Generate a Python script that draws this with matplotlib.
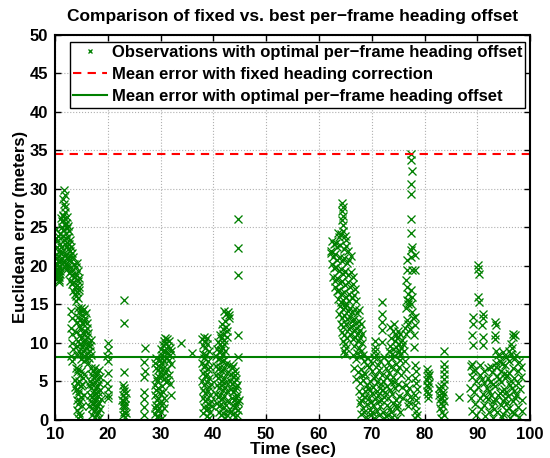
import matplotlib
matplotlib.use("Agg")
import matplotlib.pyplot as plt
import numpy as np

plt.rcParams['font.family'] = ['Liberation Sans', 'DejaVu Sans']

# ---------------- data (time in sec, error in meters) ----------------
seg_a = [(10.1,24.8),(10.2,23.6),(10.2,19.2),(10.3,22.4),(10.3,18.4),(10.4,21.0),(10.4,20.1),(10.5,19.5),
         (10.5,23.9),(10.6,18.9),(10.6,20.7),(10.7,18.2),(10.7,21.8),(10.8,19.8),(10.8,17.9),(10.9,20.6),
         (10.9,22.9),(11.0,24.1),(11.0,19.0),(11.1,21.7),(10.1,20.4),(10.3,19.6),(10.5,18.6),(10.7,20.0),
         (10.9,19.4),(11.1,20.9),(10.2,21.5),(10.4,23.2),(10.6,19.3),(10.8,18.5)]
seg_b = [(11.7,29.8),(11.8,29.2),(11.6,28.7),(11.7,28.1),(11.9,27.6),(11.8,27.0),(11.6,26.5),
         (11.2,26.2),(11.4,25.8),(11.5,26.6),(11.9,26.1),(12.1,25.6),(12.3,26.3),(12.5,25.2),(11.3,25.0),
         (11.6,24.6),(11.8,25.3),(12.0,24.3),(12.2,24.9),(12.4,23.8),(12.6,24.5),(12.8,23.4),(11.5,23.9),
         (11.7,23.3),(11.9,22.8),(12.1,23.6),(12.3,22.6),(12.5,22.2),(12.7,22.9),(12.9,21.9),(11.2,22.4),
         (11.4,21.8),(12.0,21.6),(12.2,21.2),(13.0,22.4),(13.2,21.7),(12.6,20.8),
         (11.3,21.0),(11.6,20.5),(12.0,20.2),(12.4,20.9),(12.8,21.3),(13.1,20.6),(13.4,21.1),(13.6,20.2),
         (13.9,19.8),(14.2,20.4),(14.4,19.3),(12.2,19.6),(12.6,19.1),(13.0,19.4),(13.3,18.8),(13.7,18.5),
         (14.0,18.9),(14.3,18.1),(14.6,18.4),(12.9,18.0),(13.2,17.6),(13.5,17.9),(13.8,17.2),(14.1,17.5),
         (14.5,16.9),(13.4,16.8),(13.7,16.4),(14.0,16.1),(14.3,15.8),(13.9,15.5),(14.2,16.6),(12.5,20.0),
         (11.9,19.9),(13.1,19.9),(14.6,17.2)]
seg_c = [(13.1,14.1),(13.2,13.2),(13.0,12.0),(13.3,11.1),(13.2,10.0),(13.4,9.2),(13.1,8.3),(13.3,7.6),
         (14.3,14.5),(14.6,14.0),(14.9,14.6),(15.2,14.2),(15.5,14.4),(15.8,13.9),(14.4,13.4),(14.8,13.0),
         (15.1,13.6),(15.4,12.9),(15.7,13.3),(16.0,12.6),(14.5,12.2),(14.9,11.8),(15.3,12.4),(15.6,11.6),
         (16.0,11.9),(16.3,11.3),(14.7,11.0),(15.0,10.6),(15.4,11.2),(15.7,10.4),(16.1,10.8),(16.5,10.1),
         (14.4,10.3),(14.8,9.8),(15.2,9.5),(15.5,10.0),(15.9,9.3),(16.2,9.7),(16.6,9.0),(14.6,9.0),
         (15.0,8.6),(15.3,8.9),(15.7,8.3),(16.0,8.7),(16.4,8.1),(16.8,8.5),(14.9,7.9),(15.4,7.6),
         (15.8,7.9),(16.3,7.4),(14.2,8.4),(14.1,9.6),(14.0,11.4),(14.2,12.7),(16.7,9.6),(16.9,10.4),
         (13.9,6.8),(14.1,6.2),(14.4,6.6),(14.7,5.9),(15.0,6.4),(15.3,5.5),(13.8,5.2),(14.2,4.8),
         (14.5,5.1),(14.9,4.4),(15.2,4.7),(14.0,3.9),(14.3,3.4),(14.6,3.7),(15.0,3.0),(15.4,3.3),
         (14.1,2.6),(14.4,2.1),(14.8,2.4),(15.1,1.8),(14.2,1.3),(14.5,0.9),(14.7,0.5),(14.4,0.2),
         (15.5,6.0),(13.7,4.3)]
seg_d = [(16.8,6.7),(17.2,6.4),(17.6,6.8),(18.0,6.2),(18.4,6.5),(17.0,5.8),(17.4,5.5),(17.8,5.9),
         (18.2,5.3),(18.6,5.6),(16.7,5.0),(17.1,4.7),(17.5,4.9),(17.9,4.4),(18.3,4.8),(16.9,4.1),
         (17.3,3.8),(17.7,4.2),(18.1,3.6),(18.5,3.9),(16.6,3.3),(17.0,3.0),(17.4,3.4),(17.8,2.8),
         (18.2,3.1),(18.7,2.7),(16.8,2.4),(17.2,2.1),(17.6,2.5),(18.0,1.9),(18.4,2.2),(17.0,1.5),
         (17.4,1.2),(17.8,1.6),(18.2,1.0),(18.6,1.4),(17.1,0.7),(17.5,0.4),(17.9,0.8),(18.3,0.3),
         (16.5,4.5),(16.4,1.8)]
seg_e = [(20.0,10.0),(20.1,9.1),(19.9,8.3),(20.0,7.6),(20.1,6.1),(19.9,4.8),(20.0,4.0),(20.1,3.3),(20.0,2.8)]
seg_f = [(23.0,15.6),(23.0,12.6),(23.0,6.2),(22.9,4.5),(23.1,4.1),(23.0,3.7),(22.8,3.2),(23.2,2.9),
         (23.0,2.4),(22.9,2.0),(23.1,1.6),(23.0,1.1),(22.8,0.7),(23.2,0.4),(23.4,3.5),(23.3,1.9),
         (22.7,2.6),(23.5,0.9)]
seg_g = [(27.0,9.3),(26.9,7.5),(27.0,6.4),(26.9,5.6),(26.8,3.6),(26.9,2.7),(26.8,1.7),(26.9,0.6)]
seg_h = [(29.0,4.6),(29.2,3.9),(28.9,3.2),(29.3,2.6),(29.1,1.9),(29.4,1.3),(29.0,0.8),(29.3,0.4),
         (29.6,4.2),(29.8,3.5),(29.5,2.9),(29.9,2.2),(29.7,1.6),(30.0,1.0),(29.6,0.5),(30.2,0.3),
         (29.4,5.1),(29.7,5.6),(30.0,6.2),(29.8,6.9),(30.1,7.4),(30.3,8.0),(29.5,6.5),(29.9,7.8),
         (30.2,8.5),(30.0,9.2),(30.4,9.7),(30.6,10.3),(30.8,10.7),(31.0,10.0),(31.2,10.5),(31.4,9.6),
         (31.6,10.2),(31.8,9.3),(30.5,8.9),(30.9,9.0),(31.3,8.7),(31.7,8.4),(32.0,8.9),(30.7,7.6),
         (31.1,8.1),(31.5,7.8),(31.9,7.3),(30.4,6.8),(30.8,6.1),(31.2,6.6),(31.6,5.8),(30.6,5.3),
         (31.0,4.9),(31.4,5.2),(30.3,4.4),(30.5,3.6),(30.7,2.9),(30.4,2.2),(30.6,1.5),(30.3,5.7),
         (29.2,5.4),(28.9,1.5),(32.0,3.2),(31.8,4.7),(29.1,8.1),(29.2,6.8),(29.0,7.4)]
seg_i = [(33.8,10.0),(35.9,8.7)]
seg_j = [(37.9,10.5),(38.2,10.8),(38.5,10.2),(38.8,10.6),(38.0,9.7),(38.4,9.3),(38.7,9.8),(39.1,9.0),
         (38.1,8.6),(38.3,8.0),(38.6,8.4),(39.0,7.7),(37.8,7.4),(38.2,6.9),(38.5,7.2),(38.9,6.6),
         (39.3,6.9),(38.0,6.1),(38.4,5.7),(38.8,6.0),(39.2,5.4),(37.9,5.0),(38.3,4.6),(38.7,4.9),
         (39.1,4.3),(39.5,4.7),(38.1,3.9),(38.5,3.5),(38.9,3.8),(39.3,3.2),(38.0,2.8),(38.4,2.4),
         (38.8,2.7),(39.2,2.1),(39.6,2.5),(38.2,1.7),(38.6,1.3),(39.0,1.6),(39.4,1.0),(38.8,0.5),
         (39.2,0.3),(39.7,1.8),(38.0,0.9)]
seg_k = [(42.1,14.2),(42.4,13.7),(42.7,14.0),(42.9,13.3),(42.2,12.9),(41.6,12.4),(41.9,11.8),(42.3,12.1),
         (42.6,11.5),(41.2,11.0),(41.5,10.7),(41.8,11.2),(42.1,10.4),(42.5,10.8),(40.9,10.1),(41.3,9.8),
         (41.7,9.5),(42.0,9.9),(40.6,9.2),(41.0,8.8),(41.4,9.1),(41.8,8.6),(42.2,8.9),(40.4,8.3),
         (40.8,7.9),(41.2,8.1),(41.6,7.6),(42.0,7.8),(42.4,7.3),(40.5,7.0),(40.9,6.6),(41.3,6.9),
         (41.7,6.3),(42.1,6.7),(42.5,6.1),(40.4,5.8),(40.8,5.4),(41.2,5.7),(41.6,5.1),(42.0,5.5),
         (42.4,4.9),(40.6,4.6),(41.0,4.2),(41.4,4.5),(41.8,3.9),(42.2,4.3),(42.6,3.7),(40.5,3.4),
         (40.9,3.0),(41.3,3.3),(41.7,2.7),(42.1,3.1),(42.5,2.5),(40.7,2.2),(41.1,1.8),(41.5,2.1),
         (41.9,1.5),(42.3,1.9),(42.7,1.2),(41.0,1.0),(41.4,0.6),(41.8,0.9),(42.2,0.3),(42.6,0.6),
         (43.0,13.6)]
seg_l = [(43.2,7.2),(43.5,6.8),(43.8,7.0),(44.1,6.4),(43.4,6.0),(43.7,5.6),(44.0,5.9),(44.3,5.3),
         (43.1,5.1),(43.6,4.7),(43.9,4.9),(44.2,4.3),(44.5,4.6),(43.3,4.0),(43.8,3.6),(44.1,3.9),
         (44.4,3.3),(43.5,2.9),(43.9,2.6),(44.2,2.9),(44.6,2.3),(43.7,2.0),(44.0,1.6),(44.3,1.9),
         (44.7,1.3),(43.4,1.2),(43.8,0.8),(44.1,0.4),(44.5,0.7),(44.8,2.6),
         (44.6,26.1),(44.6,22.3),(44.6,18.8),(44.6,11.0),(44.6,8.2)]
seg_m = [(64.4,28.2),(64.5,27.6),(64.3,27.1),(64.6,26.5),(64.4,25.9),(64.5,25.3),
         (64.6,24.5),(64.2,24.1),(63.8,23.7),(64.9,23.9),(65.2,23.3),(62.4,23.2),(62.8,22.8),(63.2,23.0),
         (63.5,22.4),(64.0,22.7),(64.7,22.2),(65.1,22.6),(65.5,21.9),(62.3,21.7),(62.6,21.2),(63.0,21.5),
         (63.4,20.8),(63.9,21.1),(64.3,20.6),(64.8,21.0),(65.3,20.4),(65.7,20.8),(66.0,21.3),(62.5,20.2),
         (62.9,19.7),(63.3,19.9),(63.7,19.3),(64.1,19.6),(64.6,19.0),(65.0,19.4),(65.5,18.8),(66.1,19.2),
         (66.5,18.6),(62.7,18.6),(63.1,18.1),(63.5,18.4),(63.9,17.8),(64.4,18.1),(64.9,17.5),(65.4,17.9),
         (65.9,17.3),(66.4,17.7),(66.8,17.0),(63.0,17.2),(63.4,16.7),(63.8,16.9),(64.2,16.3),(64.7,16.6),
         (65.2,16.0),(65.7,16.4),(66.2,15.8),(66.7,16.2),(67.0,15.5),(63.6,15.7),(64.1,15.3),(64.6,15.6),
         (65.0,15.1),(65.6,15.4),(62.2,22.0),(63.6,24.3)]
seg_n = [(64.0,14.8),(64.5,14.4),(65.0,14.7),(65.4,14.2),(65.9,14.5),(66.3,14.0),(66.8,14.4),(67.2,13.9),
         (67.6,14.3),(63.8,13.7),(64.3,13.3),(64.8,13.6),(65.3,13.1),(65.8,13.4),(66.2,12.8),(66.7,13.1),
         (67.1,12.6),(67.5,12.9),(67.9,12.4),(64.1,12.5),(64.6,12.1),(65.1,12.4),(65.6,11.8),(66.1,12.2),
         (66.6,11.6),(67.0,11.9),(67.4,11.3),(67.8,11.7),(68.2,11.1),(64.3,11.4),(64.8,11.0),(65.3,10.7),
         (65.8,11.1),(66.4,10.5),(66.9,10.8),(67.3,10.2),(67.7,10.6),(68.1,10.0),(64.5,10.2),(64.9,9.8),
         (65.2,9.4),(64.7,9.0),(65.0,8.6),(67.6,9.4),(68.0,9.0),(67.2,8.7),(68.3,8.5),(66.6,9.6)]
seg_o = [(66.4,8.4),(67.0,7.9),(67.8,8.3),(68.5,7.6),(69.2,8.1),(70.0,7.4),(70.8,8.5),(71.6,7.7),
         (72.4,8.2),(73.1,7.5),(73.9,8.0),(74.6,7.3),(75.4,7.8),(76.2,7.6),
         (66.7,6.8),(67.3,6.2),(68.0,6.6),(68.7,6.0),(69.4,6.9),(70.1,6.3),(70.7,5.7),(71.3,6.5),
         (71.9,5.9),(72.6,6.7),(73.3,6.1),(74.0,5.6),(74.8,6.4),(75.6,5.8),(76.4,6.6),(76.9,5.5),
         (67.1,5.3),(67.8,4.8),(68.4,5.2),(69.0,4.5),(69.7,5.0),(70.3,4.3),(71.0,4.9),(71.6,4.2),
         (72.2,5.1),(72.9,4.4),(73.6,4.9),(74.3,4.1),(75.0,4.7),(75.7,4.3),(76.5,4.6),
         (67.5,3.8),(68.1,3.2),(68.8,3.7),(69.4,2.9),(70.0,3.5),(70.6,2.7),(71.2,3.3),(71.8,2.6),
         (72.5,3.6),(73.1,2.8),(73.8,3.4),(74.5,2.6),(75.2,3.1),(76.0,2.8),(67.9,2.6),(69.7,3.9),(72.0,3.9),
         (67.7,2.2),(68.3,1.6),(69.0,2.1),(69.6,1.3),(70.2,1.9),(70.9,1.2),(71.5,1.8),(72.1,1.1),
         (72.8,2.0),(73.4,1.4),(74.1,2.2),(74.7,1.5),(75.4,1.0),(68.6,1.1),(71.3,2.4),(73.7,1.0),
         (68.0,0.8),(68.9,0.4),(69.8,0.7),(70.5,0.3),(71.4,0.6),(72.3,0.2),(73.0,0.7),(73.9,0.4),
         (74.8,0.3),(70.1,1.0),(72.6,0.5),
         (68.2,5.8),(68.7,3.0),(69.3,4.0),(69.9,2.3),(70.4,5.4),(70.9,3.8),(71.7,4.7),(72.3,3.0),
         (72.9,5.6),(73.5,3.9),(74.2,4.9),(74.8,2.0),(69.1,7.2),(71.1,7.1),(73.7,6.9),(75.1,6.9)]
seg_p = [(71.9,15.3),(71.9,13.8),(71.9,12.7),(71.9,11.7),(71.9,10.1),
         (70.6,10.3),(70.7,9.5),(70.6,8.9),(70.5,8.2)]
seg_q = [(73.4,12.1),(74.2,12.5),(74.0,11.5),(74.5,11.0),(74.9,11.6),(75.3,11.2),(73.7,10.6),(74.3,10.2),
         (74.8,10.6),(75.2,9.9),(75.7,10.4),(73.5,9.6),(74.0,9.2),(74.6,9.5),(75.1,8.9),(75.6,9.3),
         (76.0,9.9),(73.9,8.6),(74.4,8.3),(75.4,8.6),(76.1,8.9),(73.2,8.9)]
seg_r = [(77.5,34.5),(77.5,33.8),(77.6,32.3),(77.5,30.6),(77.4,29.3),(77.5,26.1),(77.5,24.3),(77.6,22.5),
         (77.5,22.1),(77.4,21.2),(77.6,19.5),(77.5,16.9),(77.6,16.0),(77.5,15.1),
         (76.6,20.8),(76.7,19.5),(76.5,18.2),(76.6,17.3),(76.7,15.6),(76.8,16.3),(76.9,15.0),(77.0,15.4),
         (78.1,21.4),(78.2,19.5),(78.2,13.4),(78.1,12.3),(78.0,9.5),(76.3,12.0),(76.6,13.0),(76.9,12.5),
         (77.2,11.8),(77.6,14.0),(77.8,13.2),(77.9,11.0),(76.5,11.2),(76.4,14.5),
         (78.2,7.1),(78.4,6.3),(78.1,5.5),(78.3,4.8),(78.5,4.0),(78.2,3.3),(78.4,2.6),(78.1,1.9),
         (78.3,1.2),(78.5,0.6),(78.2,0.2),(77.0,4.2),(77.3,3.0),(76.8,1.8),(77.1,2.3),(76.6,3.6)]
seg_s = [(80.5,6.6),(80.7,6.1),(80.6,5.6),(80.4,5.2),(80.8,4.8),(80.6,4.3),(80.5,3.8),(80.7,3.4),
         (80.6,2.9),(80.9,5.9),(80.4,4.5),
         (83.7,9.0),(83.7,7.3),(83.6,6.6),(83.7,6.0),(83.6,5.3),(83.7,4.7),(83.2,4.4),(83.0,3.9),
         (83.4,3.6),(82.8,3.2),(83.3,2.9),(83.6,2.5),(83.1,2.2),(83.5,1.8),(82.9,1.5),(83.3,1.1),
         (83.6,0.7),(83.2,0.3),(83.0,2.7),(83.5,3.3),(82.7,4.1),(86.5,3.0)]
seg_t = [(89.1,13.4),(89.2,12.5),(89.0,11.0),(89.1,9.7),(89.0,7.3),(89.2,6.4),
         (90.2,20.1),(90.1,19.6),(90.3,19.0),(90.2,16.0),(90.3,15.3),
         (91.0,13.8),(91.1,13.2),(90.9,12.3),(91.0,10.8),(91.1,9.7),
         (93.4,12.7),(93.5,12.3),(93.3,11.0),(93.4,10.5),
         (96.7,11.2),(96.8,10.8),(96.6,9.3),(97.2,11.0),(96.3,9.9),(95.9,9.0),
         (93.6,9.0),(93.9,8.5),(94.2,7.7),(93.5,7.4),(94.9,8.8),(95.4,8.2),(95.9,7.6),(96.4,8.6),
         (96.9,7.9),(97.4,8.4),(97.8,7.5),(94.6,7.3),
         (88.7,7.0),(89.6,6.5),(90.4,7.2),(91.2,6.3),(92.0,6.8),(92.8,6.2),(93.6,6.9),(94.4,6.4),
         (95.2,7.1),(96.0,6.1),(96.8,6.7),(97.6,6.3),(98.2,6.9),
         (88.9,5.6),(89.7,5.0),(90.5,5.8),(91.3,4.8),(92.1,5.5),(92.9,4.7),(93.7,5.7),(94.5,4.9),
         (95.3,5.4),(96.1,4.6),(96.9,5.5),(97.7,4.8),(98.3,5.6),(90.9,5.3),(95.7,5.9),
         (88.6,4.2),(89.4,3.6),(90.2,4.3),(91.0,3.4),(91.8,4.1),(92.6,3.2),(93.4,4.4),(94.2,3.5),
         (95.0,4.0),(95.8,3.1),(96.6,4.2),(97.4,3.3),(98.1,4.0),(92.2,3.7),(94.7,3.8),(97.0,3.7),
         (88.8,2.8),(89.6,2.1),(90.4,2.9),(91.2,2.0),(92.0,2.7),(92.8,1.8),(93.6,2.6),(94.4,1.9),
         (95.2,2.8),(96.0,1.6),(96.8,2.5),(97.6,1.7),(98.4,2.6),(93.0,2.4),(95.6,2.2),(97.2,2.9),
         (89.0,1.2),(89.8,0.6),(90.6,1.4),(91.4,0.5),(92.2,1.1),(93.0,0.3),(93.8,1.0),(94.6,0.4),
         (95.4,1.3),(96.2,0.2),(97.0,0.9),(97.8,0.4),(98.5,1.2),(94.9,0.8),(96.5,1.1),
         (91.6,3.0),(92.4,4.9),(93.2,1.4),(94.0,5.3),(94.8,2.5),(95.5,3.6),(96.3,5.1),(93.9,3.2),
         (95.0,6.0),(92.6,6.9)]

mean_fixed = 34.5
mean_optimal = 8.2

title = "Comparison of fixed vs. best per\u2212frame heading offset"
xlabel = "Time (sec)"
ylabel = "Euclidean error (meters)"
legend_labels = ["Observations with optimal per\u2212frame heading offset",
                 "Mean error with fixed heading correction",
                 "Mean error with optimal per\u2212frame heading offset"]
xticks = list(range(10, 101, 10))
yticks = list(range(0, 51, 5))

# ---------------- plotting ----------------
segments = [seg_a, seg_b, seg_c, seg_d, seg_e, seg_f, seg_g, seg_h, seg_i, seg_j,
            seg_k, seg_l, seg_m, seg_n, seg_o, seg_p, seg_q, seg_r, seg_s, seg_t]
pts = np.array([p for s in segments for p in s])
time_s = pts[:, 0]
err_m = pts[:, 1]

green = (0.0, 0.5, 0.0)

fig = plt.figure(figsize=(5.5, 4.58), dpi=100)
ax = fig.add_axes([0.100, 0.083, 0.864, 0.841])

ax.plot(time_s, err_m, linestyle='none', marker='x', color=green,
        markersize=6, markeredgewidth=0.95, label=legend_labels[0])
ax.axhline(mean_fixed, color='red', linestyle=(0, (4, 3)), linewidth=1.5, label=legend_labels[1])
ax.axhline(mean_optimal, color=green, linestyle='-', linewidth=1.5, label=legend_labels[2])

ax.set_xlim(10, 100)
ax.set_ylim(0, 50)
ax.set_xticks(xticks)
ax.set_yticks(yticks)
ax.grid(True, linestyle=':', color='#b0b0b0', linewidth=0.8)
ax.tick_params(direction='in', top=True, right=True, length=4, width=1,
               labelsize=12)
ax.tick_params(axis='y', pad=5)
ax.tick_params(axis='x', pad=5)
for lab in ax.get_xticklabels() + ax.get_yticklabels():
    lab.set_fontweight('bold')
for sp in ax.spines.values():
    sp.set_linewidth(1.5)

ax.set_title(title, fontsize=12.5, fontweight='bold', pad=10)
ax.set_xlabel(xlabel, fontsize=12.5, fontweight='bold', labelpad=0)
ax.set_ylabel(ylabel, fontsize=12, fontweight='bold', labelpad=1)

leg = ax.legend(loc='upper right', bbox_to_anchor=(0.997, 0.99),
                prop={'weight': 'bold', 'size': 12}, frameon=True, fancybox=False,
                framealpha=1, edgecolor='black', borderpad=0.2, labelspacing=0.42,
                handlelength=2.0, handletextpad=0.3, borderaxespad=0.2, markerscale=0.6)
leg.get_frame().set_linewidth(1.0)

fig.savefig('out.png', dpi=100)
